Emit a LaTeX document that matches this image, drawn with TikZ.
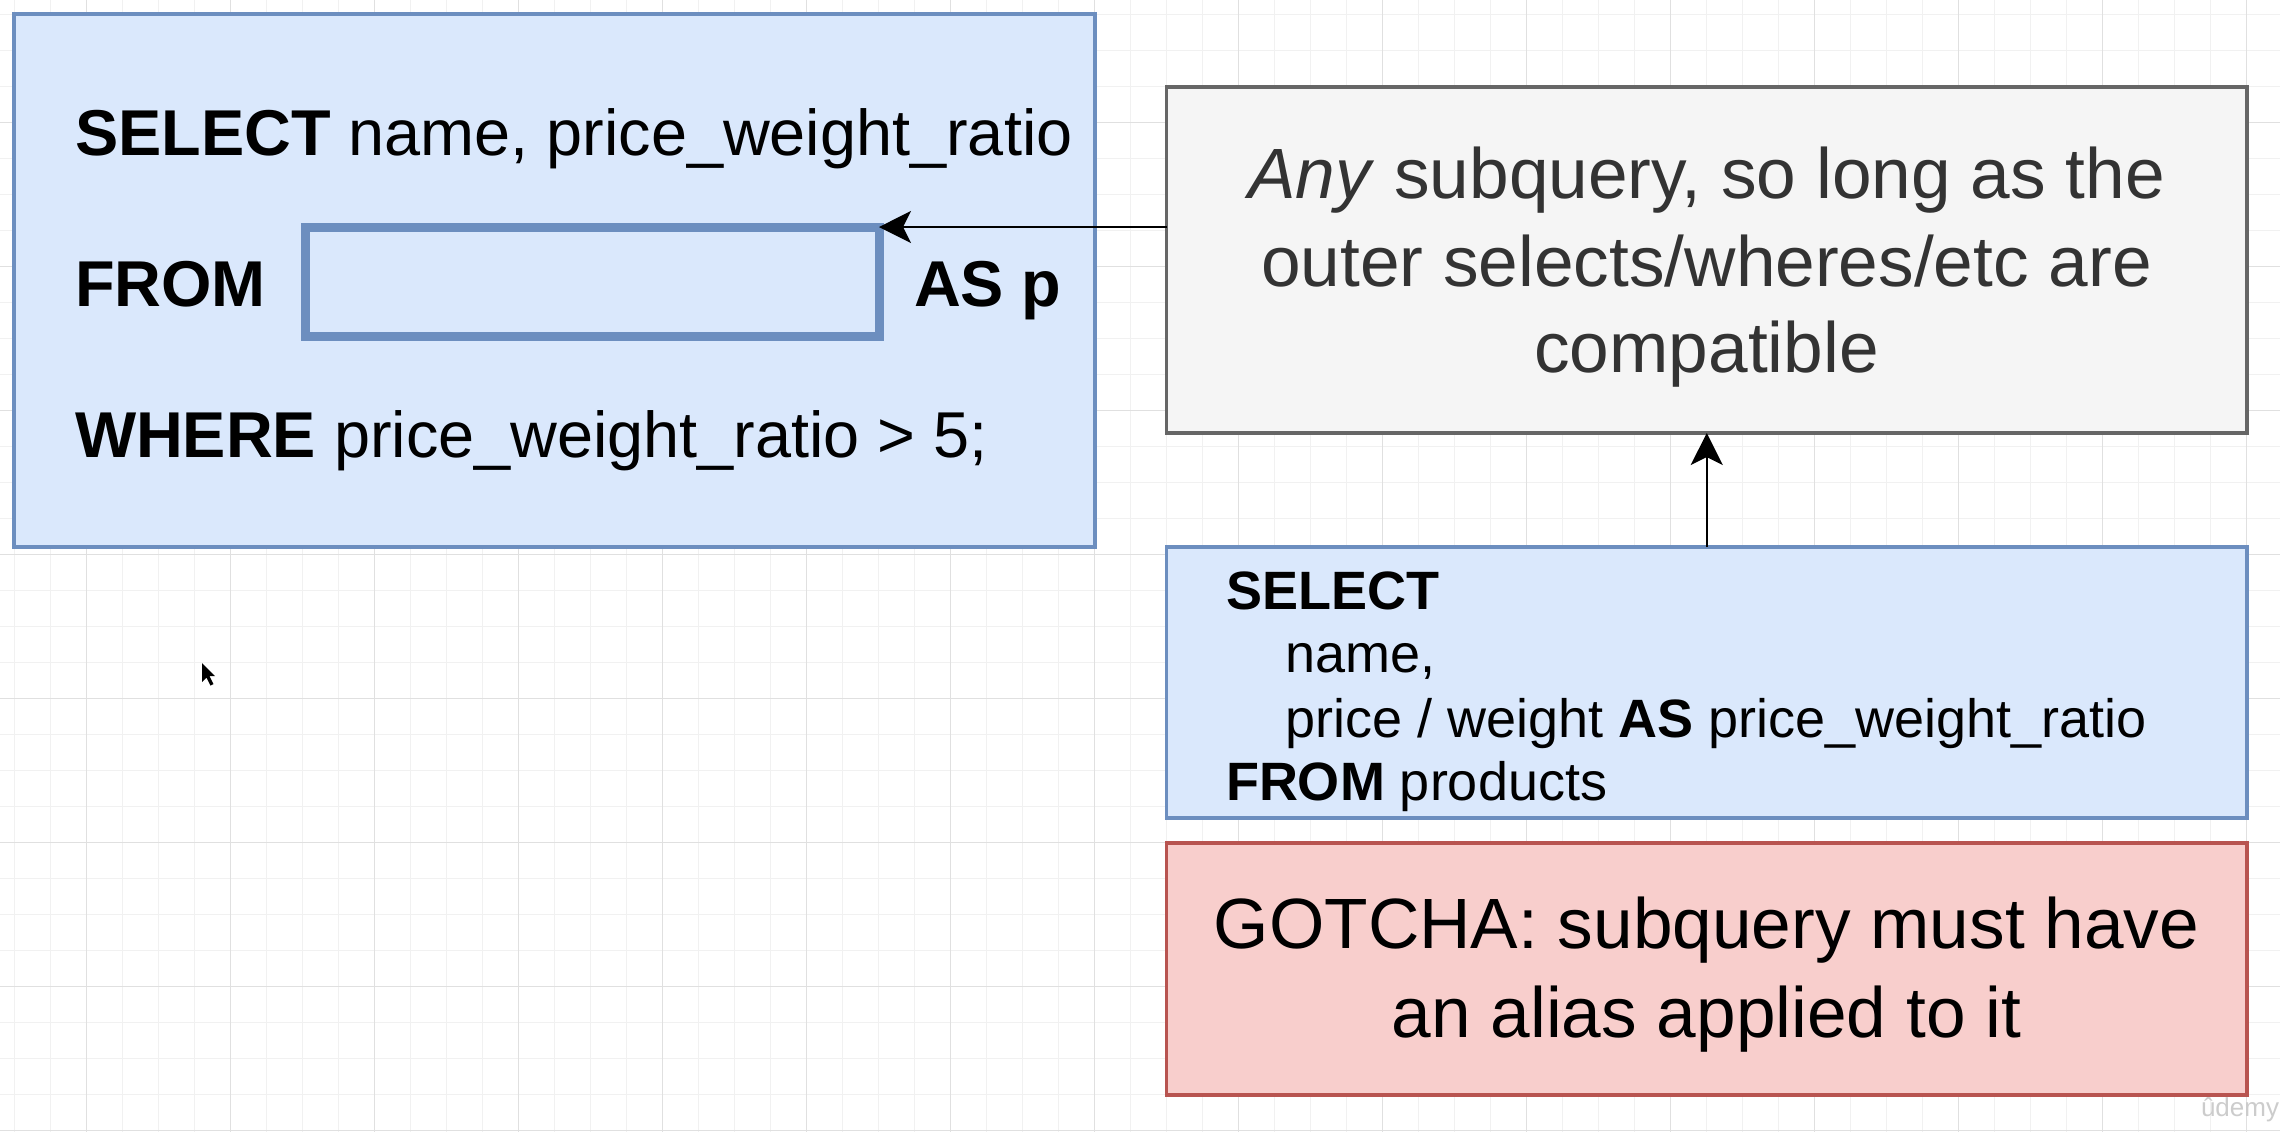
\documentclass[tikz,border=0pt]{standalone}
\usepackage{fontspec}
\setmainfont{Liberation Sans}
\usetikzlibrary{arrows.meta}
\definecolor{bluefill}{HTML}{DAE8FC}
\definecolor{bluedraw}{HTML}{6C8EBF}
\definecolor{grayfill}{HTML}{F5F5F5}
\definecolor{graydraw}{HTML}{666666}
\definecolor{redfill}{HTML}{F8CECC}
\definecolor{reddraw}{HTML}{B85450}
\definecolor{gridmajor}{HTML}{E0E0E0}
\definecolor{gridminor}{HTML}{F1F1F1}
\definecolor{graytext}{HTML}{333333}
\tikzset{
  box/.style={rectangle, inner sep=0pt, outer sep=0pt, line width=1.6pt},
  bluebox/.style={box, fill=bluefill, draw=bluedraw},
  graybox/.style={box, fill=grayfill, draw=graydraw},
  redbox/.style={box, fill=redfill, draw=reddraw},
  txt/.style={inner sep=0pt, outer sep=0pt, anchor=base west},
  ctxt/.style={inner sep=0pt, outer sep=0pt, anchor=base},
  bigfont/.style={font=\fontsize{32.4pt}{38pt}\selectfont},
  subfont/.style={font=\fontsize{27pt}{32pt}\selectfont},
  notefont/.style={font=\fontsize{35.6pt}{44pt}\selectfont},
  arr/.style={line width=1pt, -{Stealth[length=16pt,width=16pt,inset=4pt]}},
}
\begin{document}
\begin{tikzpicture}[x=0.5pt,y=-0.5pt]
\useasboundingbox (0,0) rectangle (2280,1132);
\fill[white] (0,0) rectangle (2280,1132);
\begin{scope}
\clip (0,0) rectangle (2280,1132);
\foreach \i in {0,...,63} {
  \draw[gridminor, line width=0.6pt] ({14.5+36*\i},0) -- ({14.5+36*\i},1132);
}
\foreach \i in {0,...,31} {
  \draw[gridminor, line width=0.6pt] (0,{14.5+36*\i}) -- (2280,{14.5+36*\i});
}
\foreach \i in {0,...,15} {
  \draw[gridmajor, line width=0.8pt] ({86.5+144*\i},0) -- ({86.5+144*\i},1132);
}
\foreach \i in {0,...,7} {
  \draw[gridmajor, line width=0.8pt] (0,{122.5+144*\i}) -- (2280,{122.5+144*\i});
}
\end{scope}

% main query box
\node[bluebox, minimum width=540.5pt, minimum height=266.5pt] (main) at (554.5,280.5) {};
\node[box, draw=bluedraw, line width=4.5pt, minimum width=287pt, minimum height=54.5pt] (inner) at (592,281.5) {};
\node[txt, bigfont] (sel) at (75,155) {\textbf{SELECT} name, price\_weight\_ratio};
\node[txt, bigfont] (from) at (75,306) {\textbf{FROM}};
\node[txt, bigfont] (asp) at (914,306) {\textbf{AS p}};
\node[txt, bigfont] (where) at (75,457) {\textbf{WHERE} price\_weight\_ratio > 5;};

% gray note box
\node[graybox, minimum width=540.25pt, minimum height=173pt] (gray) at (1706.75,260) {};
\node[ctxt, notefont, text=graytext] (g1) at (1706.5,198) {\textit{Any} subquery, so long as the};
\node[ctxt, notefont, text=graytext] (g2) at (1706.5,286) {outer selects/wheres/etc are};
\node[ctxt, notefont, text=graytext] (g3) at (1706.5,372) {compatible};

% subquery box
\node[bluebox, minimum width=540.25pt, minimum height=135.5pt] (sub) at (1706.75,682.5) {};
\node[txt, subfont] (s1) at (1226,609) {\textbf{SELECT}};
\node[txt, subfont] (s2) at (1285.5,672) {name,};
\node[txt, subfont] (s3) at (1285.5,737) {price / weight \textbf{AS} price\_weight\_ratio};
\node[txt, subfont] (s4) at (1226,800.6) {\textbf{FROM} products};

% gotcha box
\node[redbox, minimum width=540.25pt, minimum height=126pt] (red) at (1706.75,969) {};
\node[ctxt, notefont] (r1) at (1706.5,948) {GOTCHA: subquery must have};
\node[ctxt, notefont] (r2) at (1706.5,1037) {an alias applied to it};

% connectors
\draw[arr] (gray.west |- inner.north east) -- (inner.north east);
\draw[arr] (sub.north) -- (gray.south);

% mouse cursor
\fill[black] (202,663) -- (202,682) -- (206.5,677.5) -- (210.5,685.5) -- (213.5,684) -- (209.5,676) -- (215,676) -- cycle;

% watermark
\node[txt, font=\fontsize{13pt}{15pt}\selectfont, text=gray!40] (wm) at (2201,1116) {ûdemy};
\end{tikzpicture}
\end{document}
